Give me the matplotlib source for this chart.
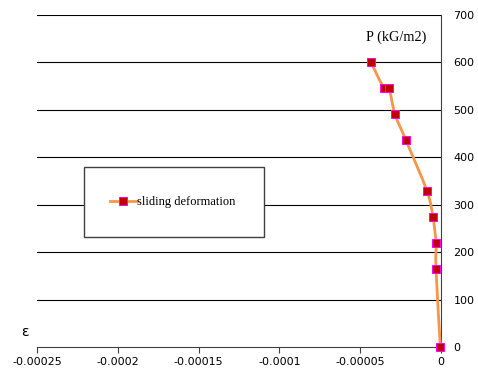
import matplotlib.pyplot as plt
import numpy as np
from matplotlib.path import Path
from matplotlib.patches import PathPatch, Rectangle
from matplotlib.lines import Line2D

# values
strain = [-4.33e-5, -3.53e-5, -3.22e-5, -2.85e-5, -2.17e-5,
          -8.7e-6, -5.0e-6, -3.1e-6, -3.1e-6, -0.4e-6]
pressure = [600, 546, 546, 491, 436, 329, 274, 219, 164, 0]

x_ticks = [-0.00025, -0.0002, -0.00015, -0.0001, -0.00005, 0]
x_tick_labels = ["-0.00025", "-0.0002", "-0.00015", "-0.0001", "-0.00005", "0"]
y_ticks = [0, 100, 200, 300, 400, 500, 600, 700]

LINE_COLOR = "#F79646"
MARKER_FACE = "#C00000"
MARKER_EDGE = "#FF00FF"
SERIF = ["Liberation Serif", "DejaVu Serif"]


def smooth_path(xs, ys):
    """Catmull-Rom style bezier through the points (like a smoothed Excel line)."""
    pts = np.column_stack([xs, ys])
    n = len(pts)
    verts = [pts[0]]
    codes = [Path.MOVETO]
    for i in range(n - 1):
        p0 = pts[i - 1] if i > 0 else pts[i]
        p1, p2 = pts[i], pts[i + 1]
        p3 = pts[i + 2] if i + 2 < n else pts[i + 1]
        c1 = p1 + (p2 - p0) / 6
        c2 = p2 - (p3 - p1) / 6
        verts += [c1, c2, p2]
        codes += [Path.CURVE4] * 3
    return Path(verts, codes)


fig = plt.figure(figsize=(4.78, 3.76), dpi=100)
ax = fig.add_axes([37 / 478, 1 - 347 / 376, 404 / 478, 332 / 376])

ax.set_xlim(-0.00025, 0)
ax.set_ylim(0, 700)

for y in y_ticks[1:]:
    ax.axhline(y, color="black", lw=0.8, zorder=1)

ax.add_patch(PathPatch(smooth_path(strain, pressure), facecolor="none",
                       edgecolor=LINE_COLOR, lw=2, zorder=3, clip_on=False))
ax.plot(strain, pressure, ls="none", marker="s", ms=5.5,
        mfc=MARKER_FACE, mec=MARKER_EDGE, mew=0.7, zorder=4, clip_on=False)

for side in ("top", "left"):
    ax.spines[side].set_visible(False)
ax.spines["right"].set_color("#404040")
ax.spines["bottom"].set_color("#404040")
ax.spines["right"].set_linewidth(0.8)
ax.spines["bottom"].set_linewidth(0.8)

ax.yaxis.tick_right()
ax.set_yticks(y_ticks)
ax.set_xticks(x_ticks)
ax.set_xticklabels(x_tick_labels)
ax.tick_params(axis="x", length=4, width=0.8, color="#404040", labelsize=8, pad=3)
ax.tick_params(axis="y", length=0, labelsize=8, pad=9)

# legend box
ax.add_patch(Rectangle((0.116, 0.331), 0.446, 0.211, transform=ax.transAxes,
                       facecolor="white", edgecolor="#404040", lw=1, zorder=5))
handle = Line2D([], [], color=LINE_COLOR, lw=2, marker="s", ms=5.5,
                mfc=MARKER_FACE, mec=MARKER_EDGE, mew=0.7)
leg = ax.legend([handle], ["sliding deformation"], loc="center left",
                bbox_to_anchor=(0.18, 0.437), frameon=False,
                prop={"family": SERIF, "size": 9}, handlelength=2.15,
                handletextpad=0.05, borderpad=0, borderaxespad=0)
leg.set_zorder(6)

fig.text(396 / 478, 1 - 37 / 376, "P (kG/m2)", family=SERIF, fontsize=10.3,
         ha="center", va="center")
fig.text(25 / 478, 1 - 332 / 376, "ε", fontsize=10,
         ha="center", va="center")

fig.savefig("out.png", dpi=100)
